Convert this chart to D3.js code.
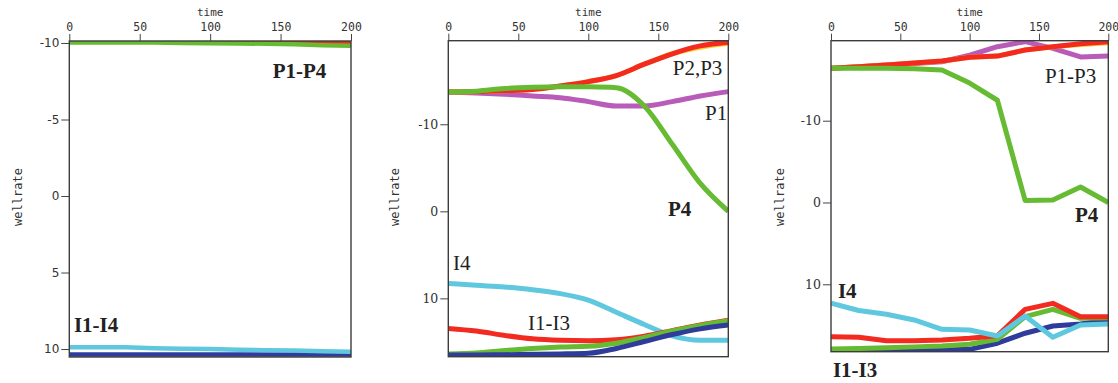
<!DOCTYPE html>
<html>
<head>
<meta charset="utf-8">
<script src="https://cdn.jsdelivr.net/npm/d3@7"></script>
<style>
  body { margin: 0; background: #fff; }
</style>
</head>
<body>
<svg id="chart" width="1118" height="383"></svg>
<script>
// time samples shared by all three runs
const times = [0, 20, 40, 60, 80, 100, 120, 140, 160, 180, 200];
const xTicks = [0, 50, 100, 150, 200];

// run 1 : producers sit at -10, injectors at +10
const r1_P23 = [-10.08, -10.08, -10.08, -10.08, -10.08, -10.08, -10.08, -10.08, -10.08, -10.08, -10.08];
const r1_P4 = [-10.03, -10.03, -10.03, -10.03, -10.0, -9.98, -9.97, -9.95, -9.92, -9.85, -9.82];
const r1_I4 = [9.89, 9.89, 9.89, 9.95, 9.98, 10.0, 10.04, 10.08, 10.1, 10.14, 10.17];
const r1_I13 = [10.36, 10.36, 10.36, 10.36, 10.36, 10.36, 10.36, 10.36, 10.36, 10.36, 10.36];

// run 2
const r2_P1 = [-13.7, -13.6, -13.45, -13.25, -13.05, -12.6, -12.1, -12.1, -12.6, -13.25, -13.75];
const r2_P2 = [-13.7, -13.75, -13.86, -14.0, -14.4, -14.9, -15.6, -16.9, -18.1, -18.85, -19.3];
const r2_P3 = [-13.7, -13.75, -13.86, -14.0, -14.4, -14.9, -15.6, -16.9, -18.1, -19.0, -19.43];
const r2_P4 = [-13.7, -13.8, -14.1, -14.25, -14.32, -14.3, -14.2, -12.1, -7.7, -3.2, 0.0];
const r2_I4 = [8.28, 8.5, 8.7, 9.0, 9.45, 10.2, 11.6, 13.0, 14.3, 14.8, 14.8];
const r2_I1 = [13.45, 13.75, 14.25, 14.65, 14.82, 14.87, 14.75, 14.35, 13.7, 13.05, 12.5];
const r2_I2 = [16.4, 16.28, 16.0, 15.75, 15.58, 15.5, 15.15, 14.5, 13.75, 13.1, 12.57];
const r2_I3 = [16.5, 16.5, 16.47, 16.42, 16.38, 16.3, 15.75, 14.95, 14.15, 13.5, 13.07];

// run 3
const r3_P1 = [-16.4, -16.6, -16.8, -17.0, -17.2, -18.0, -19.05, -19.66, -18.85, -17.8, -17.9];
const r3_P2 = [-16.4, -16.6, -16.8, -17.05, -17.3, -17.75, -17.9, -18.64, -19.05, -19.3, -19.52];
const r3_P3 = [-16.4, -16.6, -16.8, -17.05, -17.3, -17.75, -17.9, -18.64, -19.05, -19.4, -19.66];
const r3_P4 = [-16.4, -16.4, -16.4, -16.35, -16.2, -14.6, -12.5, -0.25, -0.3, -1.9, 0.0];
const r3_I4 = [12.32, 13.2, 13.67, 14.36, 15.5, 15.59, 16.32, 13.87, 16.48, 14.98, 14.85];
const r3_I1 = [16.4, 16.48, 16.9, 16.9, 16.8, 16.6, 16.3, 13.06, 12.33, 13.96, 13.96];
const r3_I2 = [17.9, 17.85, 17.75, 17.65, 17.54, 17.33, 16.72, 13.96, 13.06, 14.16, 14.08];
const r3_I3 = [18.03, 18.03, 18.03, 18.03, 18.03, 17.95, 17.2, 15.98, 15.1, 14.85, 14.36];

const col = {
  green: "#66bb33", red: "#f22a1f", magenta: "#b95cb9",
  yellow: "#f5d22a", cyan: "#60c8de", blue: "#2f3c9c"
};

const svg = d3.select("#chart");

const panels = [
  {
    xr: [69.3, 351], yr: [41, 357], yd: [-10.13, 10.52], yTicks: [-10, -5, 0, 5, 10],
    yFont: "DejaVu Sans", yFontSize: 12, ylabX: 18, lw: 4.5, curve: d3.curveLinear,
    series: [
      { v: r1_P23, c: col.red }, { v: r1_P4, c: col.green },
      { v: r1_I13, c: col.blue }, { v: r1_I4, c: col.cyan }
    ],
    labels: [
      { text: "P1-P4", t: 144.4, v: -7.71, bold: true },
      { text: "I1-I4", t: 3.3, v: 8.87, bold: true }
    ]
  },
  {
    xr: [448.3, 728.3], yr: [40.7, 356.7], yd: [-19.6, 16.7], yTicks: [-10, 0, 10],
    yFont: "DejaVu Serif", yFontSize: 12.5, ylabX: 395, lw: 5, curve: d3.curveMonotoneX,
    series: [
      { v: r2_P1, c: col.magenta }, { v: r2_P2, c: col.yellow }, { v: r2_P3, c: col.red },
      { v: r2_P4, c: col.green },
      { v: r2_I4, c: col.cyan }, { v: r2_I1, c: col.red }, { v: r2_I2, c: col.green },
      { v: r2_I3, c: col.blue }
    ],
    labels: [
      { text: "P2,P3", t: 160.3, v: -15.66 },
      { text: "P1", t: 183.4, v: -10.49 },
      { text: "P4", t: 156.9, v: 0.54, bold: true },
      { text: "I4", t: 3.4, v: 6.74 },
      { text: "I1-I3", t: 56.9, v: 13.63 }
    ]
  },
  {
    xr: [831, 1108.3], yr: [40.7, 351.7], yd: [-19.78, 18.24], yTicks: [-10, 0, 10],
    yFont: "DejaVu Serif", yFontSize: 12.5, ylabX: 779.5, lw: 5, curve: d3.curveLinear,
    series: [
      { v: r3_P1, c: col.magenta }, { v: r3_P2, c: col.yellow }, { v: r3_P3, c: col.red },
      { v: r3_P4, c: col.green },
      { v: r3_I3, c: col.blue }, { v: r3_I2, c: col.green }, { v: r3_I1, c: col.red },
      { v: r3_I4, c: col.cyan }
    ],
    labels: [
      { text: "P1-P3", t: 154.3, v: -14.57 },
      { text: "P4", t: 176, v: 2.42, bold: true },
      { text: "I4", t: 5, v: 11.71, bold: true },
      { text: "I1-I3", t: 1.4, v: 21.3, bold: true }
    ]
  }
];

panels.forEach((p, k) => {
  const x = d3.scaleLinear().domain([0, 200]).range(p.xr);
  const y = d3.scaleLinear().domain(p.yd).range(p.yr);
  const g = svg.append("g");

  g.append("clipPath").attr("id", "clip" + k)
    .append("rect")
    .attr("x", p.xr[0]).attr("y", p.yr[0])
    .attr("width", p.xr[1] - p.xr[0]).attr("height", p.yr[1] - p.yr[0]);

  const line = d3.line()
    .x((d, i) => x(times[i]))
    .y(d => y(d))
    .curve(p.curve);

  g.append("g").attr("clip-path", `url(#clip${k})`)
    .selectAll("path")
    .data(p.series)
    .enter()
    .append("path")
    .attr("d", d => line(d.v))
    .attr("fill", "none")
    .attr("stroke", d => d.c)
    .attr("stroke-width", p.lw)
    .attr("stroke-linejoin", "round");

  // frame round the plot
  g.append("rect")
    .attr("x", p.xr[0]).attr("y", p.yr[0])
    .attr("width", p.xr[1] - p.xr[0]).attr("height", p.yr[1] - p.yr[0])
    .attr("fill", "none")
    .attr("stroke", "#3c3c3c")
    .attr("stroke-width", 1.4);

  const xAxis = g.append("g")
    .attr("transform", `translate(0,${p.yr[0]})`)
    .call(d3.axisTop(x).tickValues(xTicks).tickSize(7).tickSizeOuter(0).tickPadding(3));
  xAxis.select(".domain").remove();
  xAxis.selectAll("text")
    .attr("font-family", "DejaVu Sans Mono")
    .attr("font-size", 11.5)
    .attr("fill", "#333");
  xAxis.selectAll("line").attr("stroke", "#444");

  const yAxis = g.append("g")
    .attr("transform", `translate(${p.xr[0]},0)`)
    .call(d3.axisLeft(y).tickValues(p.yTicks).tickSize(8).tickSizeOuter(0).tickPadding(2)
      .tickFormat(d => String(d)));
  yAxis.select(".domain").remove();
  yAxis.selectAll("text")
    .attr("font-family", p.yFont)
    .attr("font-size", p.yFontSize)
    .attr("fill", "#333");
  yAxis.selectAll("line").attr("stroke", "#444");

  g.append("text")
    .attr("x", (p.xr[0] + p.xr[1]) / 2)
    .attr("y", 16)
    .attr("text-anchor", "middle")
    .attr("font-family", "DejaVu Sans Mono")
    .attr("font-size", 11)
    .attr("fill", "#333")
    .text("time");

  g.append("text")
    .attr("transform", `translate(${p.ylabX},197) rotate(-90)`)
    .attr("text-anchor", "middle")
    .attr("dominant-baseline", "central")
    .attr("font-family", "DejaVu Sans Mono")
    .attr("font-size", 12)
    .attr("fill", "#333")
    .text("wellrate");

  g.selectAll(".lab")
    .data(p.labels)
    .enter()
    .append("text")
    .attr("x", d => x(d.t))
    .attr("y", d => y(d.v))
    .attr("font-family", "Liberation Serif")
    .attr("font-size", 21)
    .attr("font-weight", d => d.bold ? "bold" : "normal")
    .attr("fill", "#222")
    .text(d => d.text);
});
</script>
</body>
</html>
